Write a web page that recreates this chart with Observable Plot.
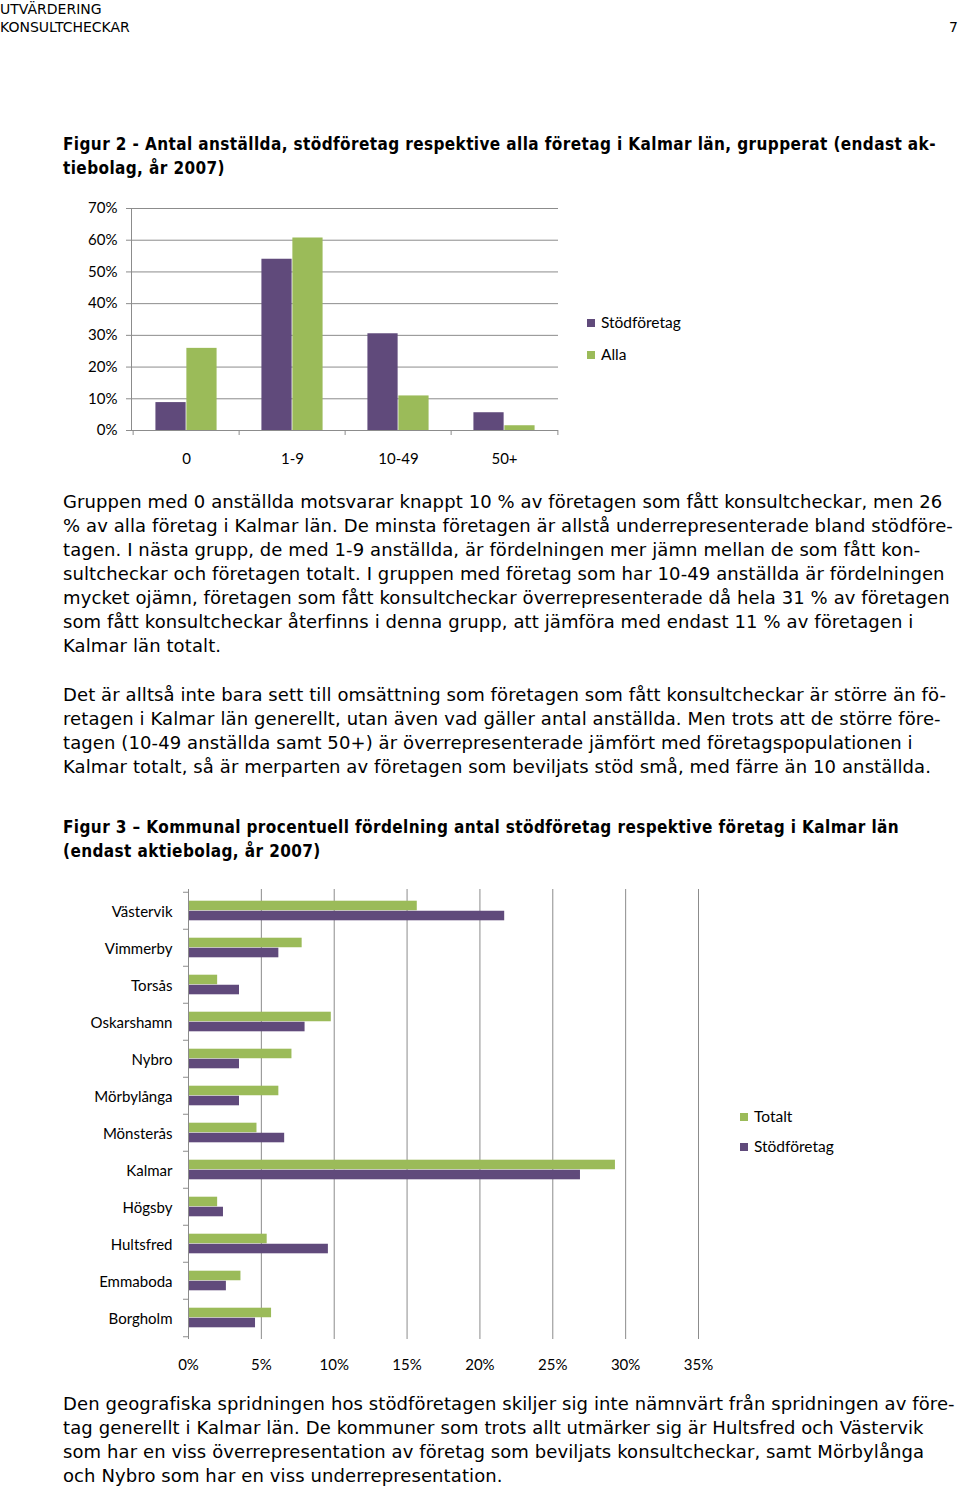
<!DOCTYPE html>
<html><head><meta charset="utf-8">
<script src="https://cdn.jsdelivr.net/npm/d3@7"></script>
<script src="https://cdn.jsdelivr.net/npm/@observablehq/plot@0.6"></script>
<style>
body{margin:0;background:#fff;width:960px;height:1490px;position:relative;overflow:hidden;font-family:"DejaVu Sans",Verdana,sans-serif;color:#000}
.abs{position:absolute}
.hdr{font-size:14px;line-height:18px;white-space:pre}
.title{font-family:"DejaVu Sans Condensed","DejaVu Sans",sans-serif;font-stretch:condensed;font-weight:bold;font-size:17px;letter-spacing:0.4px;line-height:24px;white-space:pre;left:63px}
.body{font-family:"DejaVu Sans",sans-serif;font-size:18px;letter-spacing:0.1px;line-height:24px;white-space:pre;left:63px}
.leg{font-family:Lato,sans-serif;font-size:15.5px;line-height:18px;white-space:pre}
.sw{display:inline-block;width:8px;height:8px;margin-right:6px;vertical-align:1px}
</style></head><body>
<div class="abs hdr" style="left:0;top:0">UTVÄRDERING
KONSULTCHECKAR</div>
<div class="abs hdr" style="right:2px;top:18px">7</div>

<div class="abs title" style="top:132px">Figur 2 - Antal anställda, stödföretag respektive alla företag i Kalmar län, grupperat (endast ak-
tiebolag, år 2007)</div>
<div id="chart1" class="abs" style="left:0;top:190px"></div>
<div id="legend1" class="abs leg" style="left:587px;top:313px"></div>

<div class="abs body" style="top:490px">Gruppen med 0 anställda motsvarar knappt 10 % av företagen som fått konsultcheckar, men 26
% av alla företag i Kalmar län. De minsta företagen är allstå underrepresenterade bland stödföre-
tagen. I nästa grupp, de med 1-9 anställda, är fördelningen mer jämn mellan de som fått kon-
sultcheckar och företagen totalt. I gruppen med företag som har 10-49 anställda är fördelningen
mycket ojämn, företagen som fått konsultcheckar överrepresenterade då hela 31 % av företagen
som fått konsultcheckar återfinns i denna grupp, att jämföra med endast 11 % av företagen i
Kalmar län totalt.</div>

<div class="abs body" style="top:683px">Det är alltså inte bara sett till omsättning som företagen som fått konsultcheckar är större än fö-
retagen i Kalmar län generellt, utan även vad gäller antal anställda. Men trots att de större före-
tagen (10-49 anställda samt 50+) är överrepresenterade jämfört med företagspopulationen i
Kalmar totalt, så är merparten av företagen som beviljats stöd små, med färre än 10 anställda.</div>

<div class="abs title" style="top:815px">Figur 3 – Kommunal procentuell fördelning antal stödföretag respektive företag i Kalmar län
(endast aktiebolag, år 2007)</div>
<div id="chart2" class="abs" style="left:0;top:880px"></div>
<div id="legend2" class="abs leg" style="left:740px;top:1107px"></div>

<div class="abs body" style="top:1392px">Den geografiska spridningen hos stödföretagen skiljer sig inte nämnvärt från spridningen av före-
tag generellt i Kalmar län. De kommuner som trots allt utmärker sig är Hultsfred och Västervik
som har en viss överrepresentation av företag som beviljats konsultcheckar, samt Mörbylånga
och Nybro som har en viss underrepresentation.</div>

<script>
// ---------- data: Figur 2 ----------
const sizeGroups = ["0", "1-9", "10-49", "50+"];
const stodforetag = [0.088, 0.540, 0.305, 0.056];
const alla = [0.259, 0.607, 0.109, 0.015];
const yTicks1 = [0, 0.1, 0.2, 0.3, 0.4, 0.5, 0.6, 0.7];
const legend1Labels = ["Stödföretag", "Alla"];

// ---------- data: Figur 3 ----------
const kommuner = ["Västervik", "Vimmerby", "Torsås", "Oskarshamn", "Nybro", "Mörbylånga", "Mönsterås", "Kalmar", "Högsby", "Hultsfred", "Emmaboda", "Borgholm"];
const totalt = [0.157, 0.078, 0.020, 0.098, 0.071, 0.062, 0.047, 0.293, 0.020, 0.054, 0.036, 0.057];
const stod = [0.217, 0.062, 0.035, 0.080, 0.035, 0.035, 0.066, 0.269, 0.024, 0.096, 0.026, 0.046];
const xTicks2 = [0, 0.05, 0.10, 0.15, 0.20, 0.25, 0.30, 0.35];
const legend2Labels = ["Totalt", "Stödföretag"];

const PURPLE = "#604a7b", GREEN = "#9bbb59", GRID = "#8c8c8c";
const pct = d3.format(".0%");

// ---------- chart 1 ----------
{
  const W = 580, H = 290, mL = 131, mR = 22, mT = 18, mB = 50;
  const bw = (W - mL - mR) / sizeGroups.length;
  const rows = sizeGroups.map((g, i) => ({g, s: stodforetag[i], a: alla[i]}));
  const p = Plot.plot({
    width: W, height: H, marginLeft: mL, marginRight: mR, marginTop: mT, marginBottom: mB,
    style: {fontFamily: "Lato, sans-serif", fontSize: "15px", color: "#000", background: "transparent", overflow: "visible"},
    x: {domain: sizeGroups, padding: 0, label: null},
    y: {domain: [0, 0.7], label: null},
    marks: [
      Plot.ruleY(yTicks1.slice(1), {stroke: GRID}),
      Plot.axisY({ticks: yTicks1, tickFormat: pct, tickSize: 5, tickPadding: 9, stroke: GRID, fill: "#000", label: null}),
      Plot.barY(rows, {x: "g", y: "s", fill: PURPLE, insetLeft: bw * 0.21, insetRight: bw * 0.5}),
      Plot.barY(rows, {x: "g", y: "a", fill: GREEN, insetLeft: bw * 0.5, insetRight: bw * 0.21}),
      Plot.ruleY([0], {stroke: GRID}),
      Plot.frame({anchor: "left", stroke: GRID}),
      Plot.axisX({tickSize: 0, tickPadding: 23, label: null}),
      Plot.axisX({tickSize: 5, tickFormat: () => "", stroke: GRID, dx: -bw / 2, label: null}),
      Plot.axisX({ticks: [sizeGroups[sizeGroups.length - 1]], tickSize: 5, tickFormat: () => "", stroke: GRID, dx: bw / 2, label: null})
    ]
  });
  document.getElementById("chart1").append(p);
  const lg = document.getElementById("legend1");
  [PURPLE, GREEN].forEach((c, i) => {
    const d = document.createElement("div");
    d.style.height = "32px";
    d.innerHTML = `<span class="sw" style="background:${c}"></span>${legend1Labels[i]}`;
    lg.append(d);
  });
}

// ---------- chart 2 ----------
{
  const W = 720, H = 500, mL = 188, mR = 22, mT = 9, mB = 41;
  const bh = (H - mT - mB) / kommuner.length;
  const rows = kommuner.map((k, i) => ({k, t: totalt[i], s: stod[i]}));
  const p = Plot.plot({
    width: W, height: H, marginLeft: mL, marginRight: mR, marginTop: mT, marginBottom: mB,
    style: {fontFamily: "Lato, sans-serif", fontSize: "15px", color: "#000", background: "transparent", overflow: "visible"},
    x: {domain: [0, 0.35], label: null},
    y: {domain: kommuner, padding: 0, label: null},
    marks: [
      Plot.ruleX(xTicks2.slice(1), {stroke: GRID}),
      Plot.barX(rows, {y: "k", x: "t", fill: GREEN, insetTop: bh * 0.232, insetBottom: bh * 0.5}),
      Plot.barX(rows, {y: "k", x: "s", fill: PURPLE, insetTop: bh * 0.5, insetBottom: bh * 0.232}),
      Plot.ruleX([0], {stroke: GRID}),
      Plot.axisX({ticks: xTicks2, tickFormat: pct, tickSize: 0, tickPadding: 20, label: null}),
      Plot.axisY({tickSize: 0, tickPadding: 16, dy: 1, label: null}),
      Plot.axisY({tickSize: 5, tickFormat: () => "", stroke: GRID, dy: -bh / 2, label: null}),
      Plot.axisY({ticks: [kommuner[kommuner.length - 1]], tickSize: 5, tickFormat: () => "", stroke: GRID, dy: bh / 2, label: null})
    ]
  });
  document.getElementById("chart2").append(p);
  const lg = document.getElementById("legend2");
  [GREEN, PURPLE].forEach((c, i) => {
    const d = document.createElement("div");
    d.style.height = "30px";
    d.innerHTML = `<span class="sw" style="background:${c}"></span>${legend2Labels[i]}`;
    lg.append(d);
  });
}
</script>
</body></html>
